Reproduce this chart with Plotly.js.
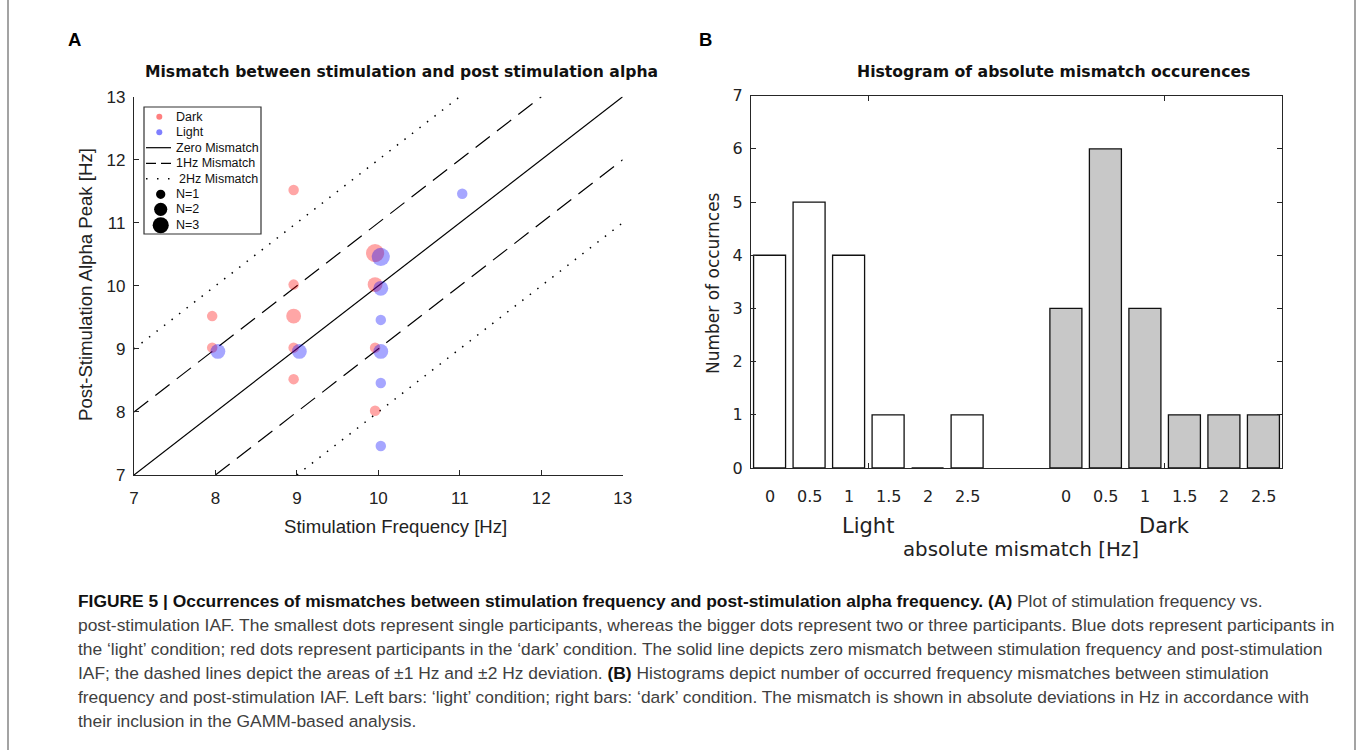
<!DOCTYPE html>
<html><head><meta charset="utf-8">
<script src="https://cdn.plot.ly/plotly-3.0.1.min.js"></script>
<style>html,body{margin:0;padding:0;background:#fff;} #chart{width:1357px;height:750px;}</style>
</head><body><div id="chart"></div>
<script>
// ---------- Panel A data: stimulation frequency vs post-stimulation peak ----------
const darkStim  = [8, 8, 9, 9, 9, 9, 9, 10, 10, 10, 10];
const darkPeak  = [9.5, 9, 11.5, 10, 9.5, 9, 8.5, 10.5, 10, 9, 8];
const darkN     = [1, 1, 1, 1, 2, 1, 1, 3, 2, 1, 1];
const lightStim = [8, 9, 10, 10, 10, 10, 10, 10, 11];
const lightPeak = [9, 9, 10.5, 10, 9.5, 9, 8.5, 7.5, 11.5];
const lightN    = [2, 2, 3, 2, 1, 2, 1, 1, 1];
const mismatchOffsets = [0, 1, -1, 2, -2];
const axisTicksA = [7, 8, 9, 10, 11, 12, 13];

// ---------- Panel B data: histogram of absolute mismatch ----------
const binLabels   = ['0', '0.5', '1', '1.5', '2', '2.5'];
const conditions  = ['Light', 'Dark'];
const lightCounts = [4, 5, 4, 1, 0, 1];
const darkCounts  = [3, 6, 3, 1, 1, 1];

// ---------- helpers ----------
const W = 1357, H = 750;
const px = v => v / W;
const py = v => 1 - v / H;
const SANS = 'Liberation Sans, Arial, Helvetica, sans-serif';
const DEJA = 'DejaVu Sans, Verdana, sans-serif';
const RED = 'rgba(255,0,0,0.5)';
const BLUE = 'rgba(0,0,255,0.5)';
const dotSize = n => 10.5 * Math.sqrt(n);

const traces = [];
// reference lines y = x + k
mismatchOffsets.forEach(k => {
  const x0 = Math.max(7, 7 - k), x1 = Math.min(13, 13 - k);
  const a = Math.abs(k);
  traces.push({
    type: 'scatter', mode: 'lines', x: [x0, x1], y: [x0 + k, x1 + k],
    xaxis: 'x', yaxis: 'y', showlegend: false, hoverinfo: 'none',
    line: {color: '#000', width: a === 2 ? 1.5 : 1.2,
           dash: a === 0 ? 'solid' : (a === 1 ? '18px,9px' : '1.5px,8px')}
  });
});
// scatter dots (small horizontal/vertical jitter per condition, as in original)
traces.push({
  type: 'scatter', mode: 'markers', name: 'Dark',
  x: darkStim.map(v => v - 0.04), y: darkPeak.map(v => v + 0.02),
  marker: {color: RED, size: darkN.map(dotSize), line: {width: 0}},
  xaxis: 'x', yaxis: 'y', showlegend: false, hoverinfo: 'x+y'
});
traces.push({
  type: 'scatter', mode: 'markers', name: 'Light',
  x: lightStim.map(v => v + 0.03), y: lightPeak.map(v => v - 0.04),
  marker: {color: BLUE, size: lightN.map(dotSize), line: {width: 0}},
  xaxis: 'x', yaxis: 'y', showlegend: false, hoverinfo: 'x+y'
});

// grouped bars
const BARGAP = 0.2, GROUPGAP = 0.19;
binLabels.forEach((lab, i) => {
  traces.push({
    type: 'bar', name: lab, x: [1, 2], y: [lightCounts[i], darkCounts[i]],
    xaxis: 'x2', yaxis: 'y2', showlegend: false, hoverinfo: 'y',
    marker: {color: ['#ffffff', '#c8c8c8'], line: {color: '#111', width: 1.3}}
  });
});

const annotations = [];
const ann = (text, x, y, opt) => annotations.push(Object.assign({
  text, x: px(x), y: py(y), xref: 'paper', yref: 'paper', showarrow: false,
  xanchor: 'center', yanchor: 'middle'}, opt || {}));

// panel letters and titles
ann('<b>A</b>', 74, 39, {font: {family: SANS, size: 18.5, color: '#000'}});
ann('<b>B</b>', 705, 39, {font: {family: SANS, size: 18.5, color: '#000'}});
ann('<b>Mismatch between stimulation and post stimulation alpha</b>', 401, 72, {font: {family: DEJA, size: 15.6, color: '#111'}});
ann('<b>Histogram of absolute mismatch occurences</b>', 1053, 72, {font: {family: DEJA, size: 15.7, color: '#111'}});
// axis titles panel A
ann('Stimulation Frequency [Hz]', 395, 526, {font: {family: SANS, size: 18.6, color: '#222'}});
ann('Post-Stimulation Alpha Peak [Hz]', 85, 285, {textangle: -90, font: {family: SANS, size: 18.6, color: '#222'}});
// panel B labels
ann('Number of occurnces', 713, 283, {textangle: -90, font: {family: DEJA, size: 17, color: '#222'}});
ann('absolute mismatch [Hz]', 1021, 549, {font: {family: DEJA, size: 19.8, color: '#222'}});
// bin tick labels under each bar
const groupW = 1 - BARGAP, slot = groupW / binLabels.length;
conditions.forEach((c, g) => {
  binLabels.forEach((lab, i) => {
    annotations.push({text: lab, x: (g + 1) - groupW / 2 + slot * (i + 0.5), y: py(497),
      xref: 'x2', yref: 'paper', showarrow: false, xanchor: 'center', yanchor: 'middle',
      font: {family: DEJA, size: 16, color: '#222'}});
  });
  annotations.push({text: c, x: g + 1, y: py(526), xref: 'x2', yref: 'paper', showarrow: false,
    xanchor: 'center', yanchor: 'middle', font: {family: DEJA, size: 21, color: '#222'}});
});

// legend (panel A)
const legTexts = [['Dark', 174, 116.7], ['Light', 174, 132.3], ['Zero Mismatch', 174, 147.7],
  ['1Hz Mismatch', 174, 163.3], ['2Hz Mismatch', 177, 178.7], ['N=1', 174, 194.3],
  ['N=2', 174, 209.3], ['N=3', 174, 225.3]];
legTexts.forEach(t => ann(t[0], t[1], t[2], {xanchor: 'left', font: {family: SANS, size: 12.5, color: '#111'}}));

// caption
const capLines = [
  '<b><span style="color:#111">FIGURE 5 | Occurrences of mismatches between stimulation frequency and post-stimulation alpha frequency. (A)</span></b> Plot of stimulation frequency vs.',
  'post-stimulation IAF. The smallest dots represent single participants, whereas the bigger dots represent two or three participants. Blue dots represent participants in',
  'the ‘light’ condition; red dots represent participants in the ‘dark’ condition. The solid line depicts zero mismatch between stimulation frequency and post-stimulation',
  'IAF; the dashed lines depict the areas of ±1 Hz and ±2 Hz deviation. <b><span style="color:#111">(B)</span></b> Histograms depict number of occurred frequency mismatches between stimulation',
  'frequency and post-stimulation IAF. Left bars: ‘light’ condition; right bars: ‘dark’ condition. The mismatch is shown in absolute deviations in Hz in accordance with',
  'their inclusion in the GAMM-based analysis.'
];
capLines.forEach((t, i) => ann(t, 76, 601 + i * 23.9, {xanchor: 'left', font: {family: SANS, size: 17.4, color: '#404040'}}));

const shapes = [];
const rectPx = (x0, y0, x1, y1, opt) => shapes.push(Object.assign({type: 'rect', xref: 'paper', yref: 'paper',
  x0: px(x0), x1: px(x1), y0: py(y1), y1: py(y0)}, opt));
const linePx = (x0, y0, x1, y1, opt) => shapes.push(Object.assign({type: 'line', xref: 'paper', yref: 'paper',
  x0: px(x0), x1: px(x1), y0: py(y0), y1: py(y1)}, opt));
const circPx = (cx, cy, d, color) => shapes.push({type: 'circle', xref: 'paper', yref: 'paper',
  x0: px(cx - d / 2), x1: px(cx + d / 2), y0: py(cy + d / 2), y1: py(cy - d / 2),
  fillcolor: color, line: {width: 0}});

rectPx(144, 107, 261, 234, {line: {color: '#333', width: 1.2}, fillcolor: '#fff'});
circPx(159.3, 116.7, 6, RED);
circPx(159.3, 132.3, 6, BLUE);
linePx(146, 147.7, 171, 147.7, {line: {color: '#000', width: 1.2}});
linePx(146, 163.3, 171, 163.3, {line: {color: '#000', width: 1.2, dash: '10px,5px'}});
linePx(146, 178.7, 173, 178.7, {line: {color: '#000', width: 1.5, dash: '1.5px,9.5px'}});
[[194.3, 1], [209.3, 2], [225.3, 3]].forEach(r => circPx(160.7, r[0], 9.3 * Math.sqrt(r[1]), '#000'));
// outer figure frame
linePx(8, 0, 8, 750, {line: {color: '#666', width: 1.2}});
linePx(1355, 0, 1355, 750, {line: {color: '#666', width: 1.2}});

const layout = {
  width: W, height: H, margin: {l: 0, r: 0, t: 0, b: 0},
  paper_bgcolor: '#fff', plot_bgcolor: 'rgba(0,0,0,0)',
  showlegend: false, barmode: 'group', bargap: BARGAP, bargroupgap: GROUPGAP,
  xaxis: {domain: [px(134), px(622.7)], range: [7, 13], anchor: 'y', tickvals: axisTicksA,
    showline: true, linecolor: '#262626', linewidth: 1.1, ticks: 'inside', ticklen: 5, tickcolor: '#262626',
    showgrid: false, zeroline: false, ticklabelstandoff: 7,
    tickfont: {family: SANS, size: 17, color: '#222'}},
  yaxis: {domain: [py(475), py(96.7)], range: [7, 13], anchor: 'x', tickvals: axisTicksA,
    showline: true, linecolor: '#262626', linewidth: 1.1, ticks: 'inside', ticklen: 5, tickcolor: '#262626',
    showgrid: false, zeroline: false, ticklabelstandoff: 4,
    tickfont: {family: SANS, size: 17, color: '#222'}},
  xaxis2: {domain: [px(751), px(1282)], range: [0.604, 2.396], anchor: 'y2', tickvals: [1, 2],
    showticklabels: false, showline: true, mirror: 'ticks', linecolor: '#262626', linewidth: 1.1,
    ticks: 'inside', ticklen: 5, tickcolor: '#262626', showgrid: false, zeroline: false},
  yaxis2: {domain: [py(468), py(95.7)], range: [0, 7], anchor: 'x2', dtick: 1, tick0: 0,
    showline: true, mirror: 'ticks', linecolor: '#262626', linewidth: 1.1,
    ticks: 'inside', ticklen: 5, tickcolor: '#262626', showgrid: false, zeroline: false,
    ticklabelstandoff: 4, tickfont: {family: DEJA, size: 16, color: '#222'}},
  annotations, shapes
};

Plotly.newPlot('chart', traces, layout, {displayModeBar: false, staticPlot: true});
</script></body></html>
